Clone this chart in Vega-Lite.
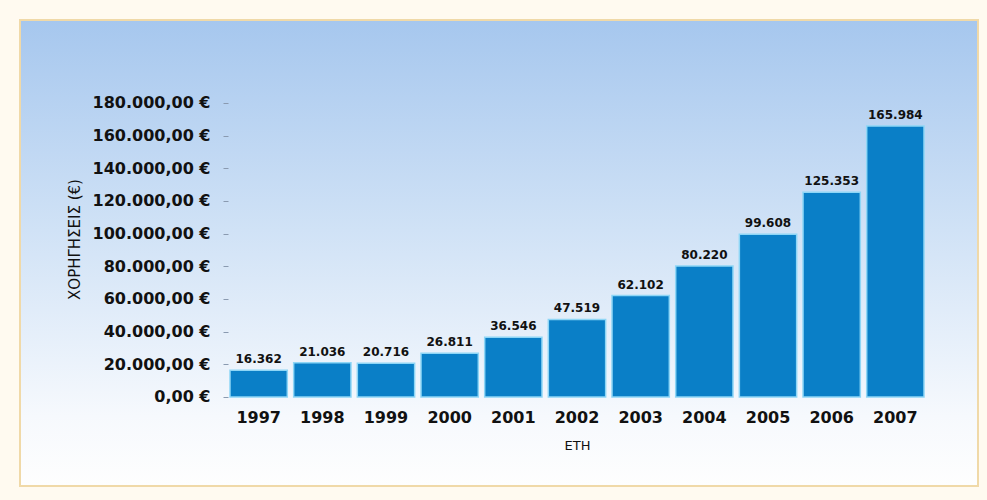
{
  "$schema": "https://vega.github.io/schema/vega-lite/v6.json",
  "width": 958,
  "height": 466,
  "autosize": {"type": "none"},
  "padding": {"left": 20, "top": 20, "right": 9, "bottom": 14},
  "background": "#fffaf0",
  "config": {
    "locale": {"number": {"decimal": ",", "thousands": ".", "grouping": [3], "currency": ["", " €"]}},
    "view": {
      "stroke": "#f0d9a8",
      "strokeWidth": 2,
      "fill": {
        "gradient": "linear", "x1": 0, "y1": 0, "x2": 0, "y2": 1,
        "stops": [
          {"offset": 0, "color": "#a6c7ee"},
          {"offset": 0.45, "color": "#d0e2f6"},
          {"offset": 0.85, "color": "#f6f9fd"},
          {"offset": 1, "color": "#fefefe"}
        ]
      }
    }
  },
  "data": {
    "values": [
      {"year": "1997", "amount": 16362},
      {"year": "1998", "amount": 21036},
      {"year": "1999", "amount": 20716},
      {"year": "2000", "amount": 26811},
      {"year": "2001", "amount": 36546},
      {"year": "2002", "amount": 47519},
      {"year": "2003", "amount": 62102},
      {"year": "2004", "amount": 80220},
      {"year": "2005", "amount": 99608},
      {"year": "2006", "amount": 125353},
      {"year": "2007", "amount": 165984}
    ]
  },
  "encoding": {
    "x": {
      "field": "year", "type": "nominal",
      "scale": {"range": [210, 904], "paddingInner": 0.1, "paddingOuter": 0},
      "axis": {
        "title": "ΕΤΗ", "orient": "bottom", "offset": -89, "domain": false, "ticks": false,
        "labelAngle": 0, "labelFont": "DejaVu Sans", "labelFontWeight": "bold", "labelFontSize": 16,
        "labelColor": "#111111", "labelPadding": 12,
        "titleFont": "DejaVu Sans", "titleFontWeight": "normal", "titleFontSize": 13, "titleColor": "#111111",
        "titleX": 557, "titleY": 42
      }
    },
    "y": {
      "field": "amount", "type": "quantitative",
      "scale": {"domain": [-54490, 230816], "nice": false, "zero": false},
      "axis": {
        "title": "ΧΟΡΗΓΗΣΕΙΣ (€)", "offset": -208, "domain": false, "grid": false,
        "values": [0, 20000, 40000, 60000, 80000, 100000, 120000, 140000, 160000, 180000],
        "format": "$,.2f", "tickSize": 5, "tickColor": "#8a9ab0",
        "labelFont": "DejaVu Sans", "labelFontWeight": "bold", "labelFontSize": 16, "labelColor": "#111111",
        "labelPadding": 13,
        "titleFont": "DejaVu Sans", "titleFontWeight": "normal", "titleFontSize": 15, "titleColor": "#111111",
        "titleX": -146, "titleY": 219
      }
    }
  },
  "layer": [
    {
      "mark": {"type": "bar", "color": "#0a7fc7", "stroke": "#8ed6f6", "strokeWidth": 1.5}
    },
    {
      "mark": {"type": "text", "baseline": "bottom", "dy": -4, "font": "DejaVu Sans", "fontWeight": "bold", "fontSize": 12, "color": "#111111"},
      "encoding": {"text": {"field": "amount", "type": "quantitative", "format": ",d"}}
    },
    {
      "data": {"values": [{}]},
      "mark": {"type": "rule", "color": "#8a9ab0", "strokeWidth": 1},
      "encoding": {
        "x": {"datum": "1997", "bandPosition": 0},
        "y": {"datum": 0},
        "y2": {"datum": 180000}
      }
    },
    {
      "data": {"values": [{}]},
      "mark": {"type": "rule", "color": "#8a9ab0", "strokeWidth": 1.5},
      "encoding": {
        "x": {"datum": "1997", "bandPosition": 0},
        "x2": {"datum": "2007", "bandPosition": 1},
        "y": {"datum": 0}
      }
    }
  ]
}
